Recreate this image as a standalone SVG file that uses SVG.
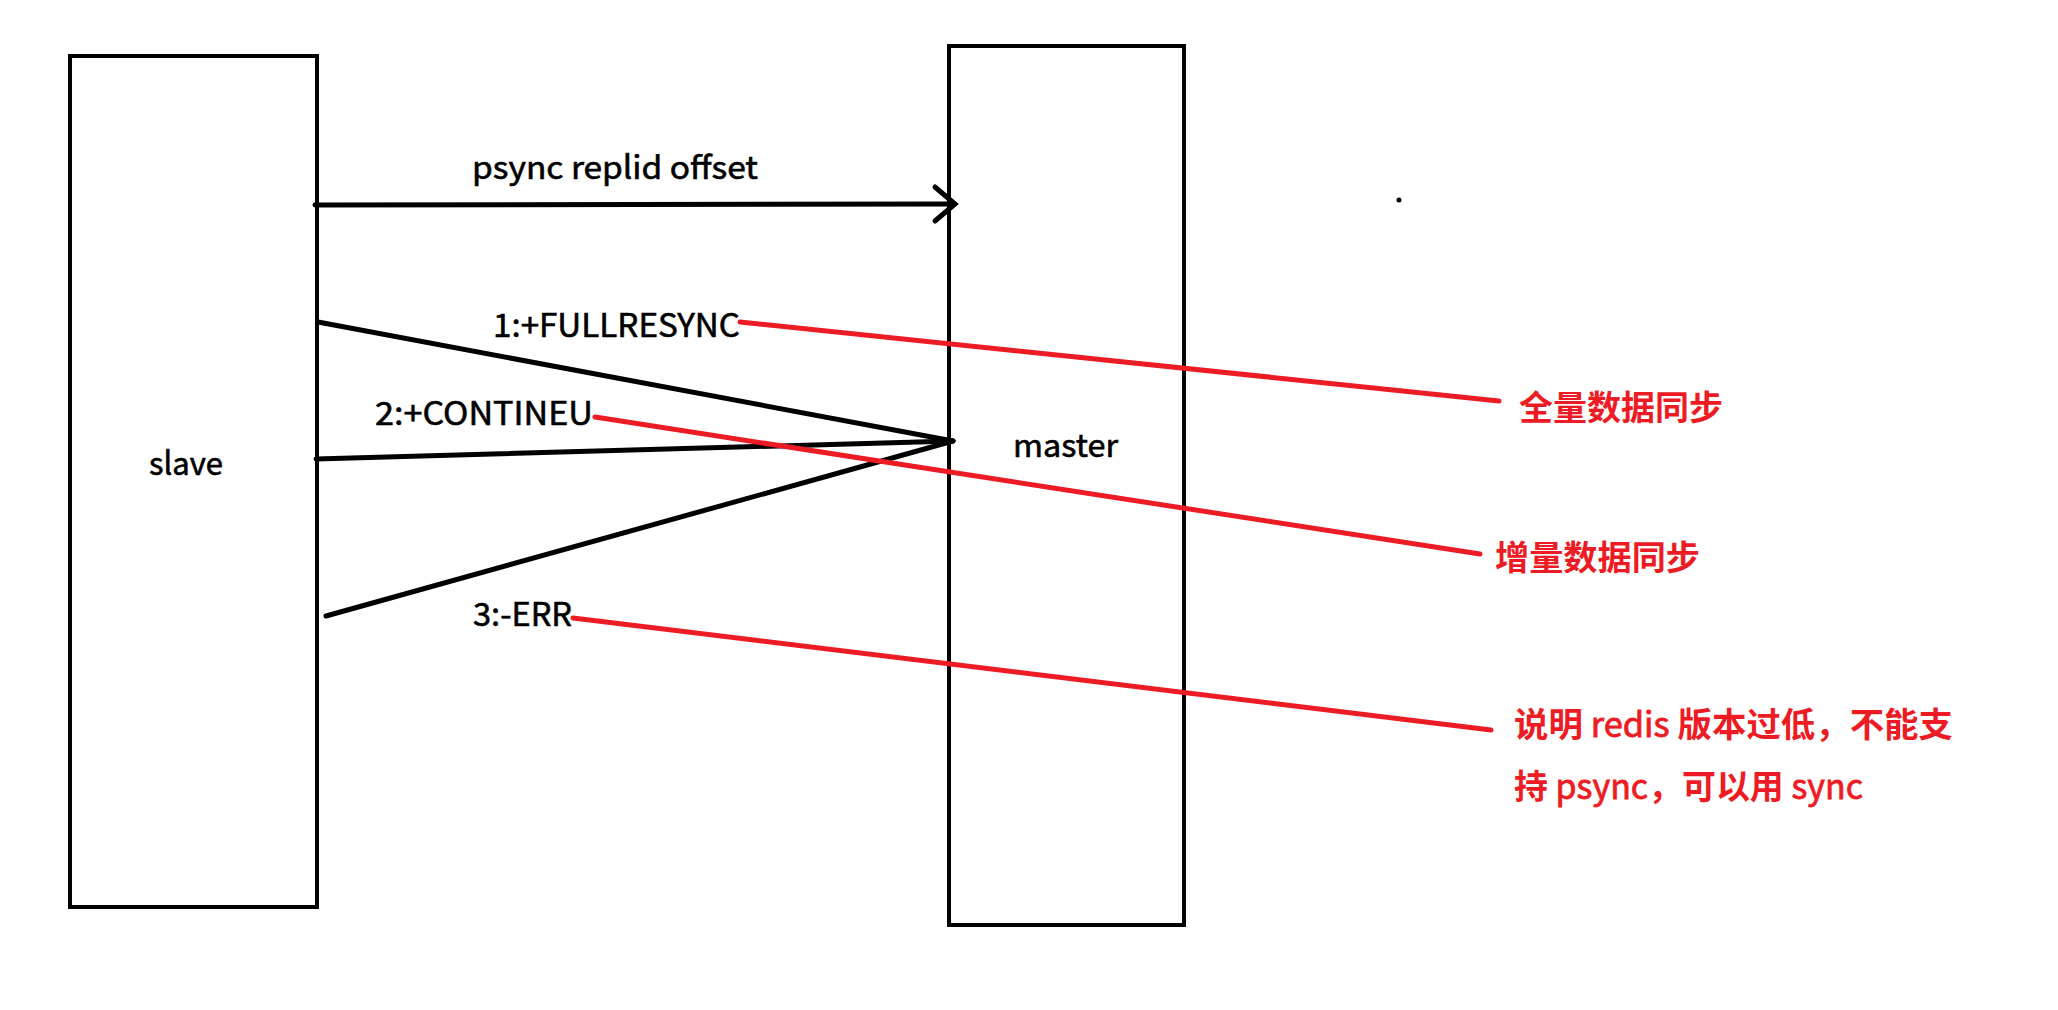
<svg xmlns="http://www.w3.org/2000/svg" width="2058" height="1010" viewBox="0 0 2058 1010">
  <style>
    .box { fill: #ffffff; stroke: #000000; stroke-width: 4; }
    .lbl { font-family: "Noto Sans CJK SC", "Noto Sans", sans-serif; font-size: 32px; fill: #000000; stroke: #000000; stroke-width: 0.6; }
    .note { font-family: "Noto Sans CJK SC", "Noto Sans", sans-serif; font-size: 34px; font-weight: bold; fill: #ED1C24; }
    .lat { font-weight: normal; stroke: #ED1C24; stroke-width: 0.8; }
    .conn { stroke: #000000; stroke-width: 5; fill: none; stroke-linecap: round; }
    .ann { stroke: #ED1C24; stroke-width: 5; fill: none; stroke-linecap: round; }
  </style>
  <rect width="2058" height="1010" fill="#ffffff"/>
  <g id="slave">
    <rect class="box" x="70" y="56" width="247" height="851"/>
    <text class="lbl" x="149" y="475" textLength="74" lengthAdjust="spacingAndGlyphs">slave</text>
  </g>
  <g id="master">
    <rect class="box" x="949" y="46" width="235" height="879"/>
    <text class="lbl" x="1013" y="457" textLength="105" lengthAdjust="spacingAndGlyphs">master</text>
  </g>
  <g id="connectors">
    <line class="conn" x1="315" y1="205" x2="954" y2="204"/>
    <polyline class="conn" points="935,187 955,204 935,221"/>
    <line class="conn" x1="318" y1="322" x2="953" y2="441"/>
    <line class="conn" x1="316" y1="459" x2="953" y2="441"/>
    <line class="conn" x1="326" y1="616" x2="953" y2="441"/>
    <text class="lbl" x="472" y="179" textLength="286" lengthAdjust="spacingAndGlyphs">psync replid offset</text>
    <text class="lbl" x="493" y="337" textLength="247" lengthAdjust="spacingAndGlyphs">1:+FULLRESYNC</text>
    <text class="lbl" x="375" y="425" textLength="218" lengthAdjust="spacingAndGlyphs">2:+CONTINEU</text>
    <text class="lbl" x="473" y="626" textLength="99" lengthAdjust="spacingAndGlyphs">3:-ERR</text>
  </g>
  <g id="annotations">
    <line class="ann" x1="740" y1="322" x2="1499" y2="401"/>
    <line class="ann" x1="595" y1="417" x2="1480" y2="554"/>
    <line class="ann" x1="573" y1="618" x2="1491" y2="730"/>
    <text class="note" x="1519" y="420" textLength="204" lengthAdjust="spacingAndGlyphs">全量数据同步</text>
    <text class="note" x="1495" y="570" textLength="205" lengthAdjust="spacingAndGlyphs">增量数据同步</text>
    <text class="note" x="1514" y="737" textLength="439" lengthAdjust="spacingAndGlyphs">说明 <tspan class="lat">redis</tspan> 版本过低，不能支</text>
    <text class="note" x="1514" y="799" textLength="349" lengthAdjust="spacingAndGlyphs">持 <tspan class="lat">psync</tspan>，可以用 <tspan class="lat">sync</tspan></text>
  </g>
  <circle cx="1399" cy="200" r="2.5" fill="#000000"/>
</svg>
